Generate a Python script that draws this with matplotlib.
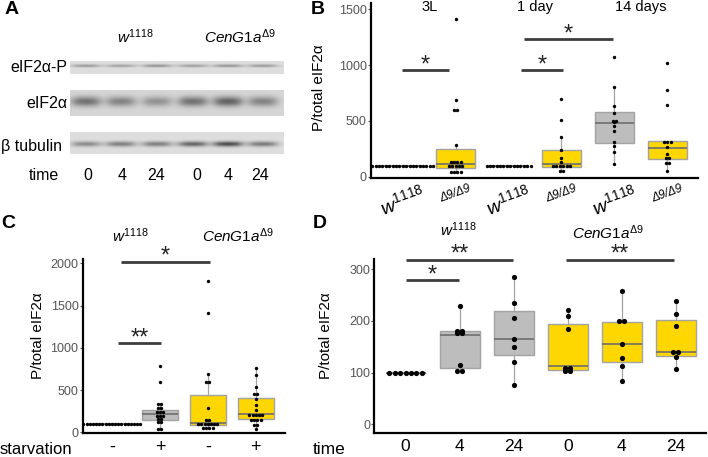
import numpy as np
import matplotlib
matplotlib.use("Agg")
import matplotlib.pyplot as plt

W, H = 708, 457
plt.rcParams.update({"font.family": ["Liberation Sans", "DejaVu Sans"],
                     "mathtext.fontset": "custom", "mathtext.rm": "Liberation Sans",
                     "mathtext.it": "Liberation Sans:italic", "mathtext.bf": "Liberation Sans:bold"})

GOLD = "#ffd700"; GREY = "#bdbdbd"; EDGE = "#a3a3a3"; MED = "#6e6e6e"; TICK = "#555555"; BAR = "#3c3c3c"
W1118 = r"$\mathit{w}^{1118}$"
CENG = r"$\mathit{CenG1a}^{\mathit{\Delta 9}}$"

# ---------- data ----------
# panel A: band darkness per lane (w1118 0,4,24 / CenG1a 0,4,24)
blot_rows = ["eIF2α-P", "eIF2α", "β tubulin"]
band_p = [0.28, 0.25, 0.31, 0.26, 0.30, 0.28]
band_tot = [0.40, 0.33, 0.27, 0.40, 0.46, 0.33]
band_tub = [0.33, 0.38, 0.38, 0.48, 0.58, 0.40]
time_labels = ["0", "4", "24", "0", "4", "24"]

# panel B
b_groups = ["3L", "1 day", "14 days"]
b_xlabels = [W1118, "Δ9/Δ9", W1118, "Δ9/Δ9", W1118, "Δ9/Δ9"]
b_w_3L = [100] * 19
b_d_3L = [1413, 686, 597, 597, 283, 129, 129, 129, 129, 100, 100, 100, 100, 100, 45, 45, 45, 45]
b_w_1d = [100] * 14
b_d_1d = [693, 508, 353, 239, 165, 134, 99, 99, 99, 99, 99, 99, 54, 54]
b_w_14d = [1075, 801, 633, 568, 502, 502, 487, 454, 409, 314, 278, 219, 114]
b_d_14d = [1016, 777, 642, 314, 314, 314, 263, 203, 165, 165, 125, 125, 51]
# box stats: median, q1, q3, whisker low, whisker high
b_stats = [(100, 100, 100, 100, 100), (111, 75, 247, 45, 283), (100, 100, 100, 100, 100),
           (111, 87, 239, 54, 353), (478, 299, 580, 114, 801), (260, 159, 323, 51, 314)]

# panel C
c_xlabels = ["-", "+", "-", "+"]
c_w_ctrl = [100] * 19
c_w_starv = [783, 595, 329, 329, 282, 282, 235, 235, 235, 195, 195, 195, 156, 156, 118, 118, 39, 39]
c_d_ctrl = [1791, 1411, 686, 600, 600, 290, 145, 145] + [102] * 7 + [51] * 4
c_d_starv = [756, 677, 536, 454, 454, 388, 317, 259] + [203] * 5 + [145] * 4 + [86, 86, 35]
c_stats = [(100, 100, 100, 100, 100), (212, 148, 266, 39, 329),
           (113, 86, 443, 51, 686), (219, 156, 411, 35, 756)]

# panel D
d_xlabels = ["0", "4", "24", "0", "4", "24"]
d_w0 = [100] * 7
d_w4 = [229, 180, 180, 176, 176, 115, 103, 103]
d_w24 = [284, 234, 206, 166, 149, 121, 77]
d_d0 = [222, 209, 184, 110, 110, 103, 103]
d_d4 = [257, 199, 199, 155, 128, 113, 84]
d_d24 = [238, 213, 191, 140, 140, 130, 107]
d_stats = [(100, 100, 100, 100, 100), (172, 110, 180, 103, 229), (166, 135, 219, 77, 284),
           (112, 106, 195, 102, 222), (155, 120, 198, 84, 257), (140, 133, 201, 107, 238)]

fig = plt.figure(figsize=(W / 100, H / 100), dpi=100)


def px_axes(l, t, r, b):
    return fig.add_axes([l / W, 1 - b / H, (r - l) / W, (b - t) / H])


def ftext(x, y, s, **kw):
    kw.setdefault("fontsize", 11)
    kw.setdefault("va", "center")
    return fig.text(x / W, 1 - y / H, s, **kw)


# ---------- A: blot ----------
lane_px = [86, 121, 157, 193, 228, 263]
strips = [(61, 74, 65.8, 1.4, 0.87, band_p), (90, 116, 102, 4.8, 0.84, band_tot),
          (132, 154, 144, 2.6, 0.87, band_tub)]
for top, bot, yc, sy, bg, amps in strips:
    ax = px_axes(70, top, 284, bot)
    xs = 70 + (np.arange(214 * 4) + 0.5) / 4
    ys = top + (np.arange((bot - top) * 4) + 0.5) / 4
    X, Y = np.meshgrid(xs, ys)
    img = np.full(X.shape, bg)
    for xc, a in zip(lane_px, amps):
        img -= a * np.exp(-((Y - yc) / sy) ** 2) / (1 + np.exp((np.abs(X - xc) - 13) / 3.0))
    ax.imshow(img, cmap="gray", vmin=0, vmax=1, aspect="auto", interpolation="bilinear")
    ax.axis("off")

ftext(12, 10, "A", fontsize=14, fontweight="bold", ha="center")
ftext(135, 37, W1118, ha="center")
ftext(240, 37, CENG, ha="center")
for lab, y in zip(blot_rows, [68, 103, 146]):
    ftext(67 if y < 140 else 62, y, lab, ha="right", fontsize=11.5)
ftext(59, 175, "time", ha="right", fontsize=11.5)
for lab, x in zip(time_labels, [88, 122, 156, 197, 228, 260]):
    ftext(x, 175, lab, ha="center", fontsize=11.5)


# ---------- helpers for box + dot panels ----------
def boxdots(ax, groups, stats, colors, spacing, ms):
    for i, (vals, st, c) in enumerate(zip(groups, stats, colors)):
        pos = i + 1
        med, q1, q3, lo, hi = st
        ax.bxp([dict(med=med, q1=q1, q3=q3, whislo=lo, whishi=hi, fliers=[])], positions=[pos],
               widths=0.745, patch_artist=True, showcaps=False, showfliers=False,
               boxprops=dict(facecolor=c, edgecolor=EDGE, lw=1.0),
               medianprops=dict(color=MED, lw=1.2), whiskerprops=dict(color=EDGE, lw=0.9))
        vals = np.asarray(vals)
        for v in np.unique(vals):
            n = int((vals == v).sum())
            xs = pos + (np.arange(n) - (n - 1) / 2) * spacing
            ax.scatter(xs, [v] * n, s=ms, color="black", lw=0, zorder=3)


def style(ax, xlim, ylim, yticks):
    ax.set_xlim(xlim); ax.set_ylim(ylim); ax.set_yticks(yticks)
    for s in ("top", "right"):
        ax.spines[s].set_visible(False)
    for s in ("left", "bottom"):
        ax.spines[s].set_linewidth(1.6)
    ax.tick_params(axis="y", length=2, color=TICK, labelcolor=TICK, labelsize=9, pad=1)
    ax.tick_params(axis="x", length=0)
    ax.patch.set_alpha(0)


def sig(ax, x0, x1, y, stars, off=3.5):
    ax.plot([x0, x1], [y, y], color=BAR, lw=2, clip_on=False, solid_capstyle="butt")
    ax.annotate(stars, xy=((x0 + x1) / 2, y), xytext=(0, off), textcoords="offset points",
                ha="center", va="center", fontsize=17, color="#222222", annotation_clip=False)


# ---------- B ----------
axB = px_axes(371, 3, 698, 177.7)
boxdots(axB, [b_w_3L, b_d_3L, b_w_1d, b_d_1d, b_w_14d, b_d_14d], b_stats,
        [GREY, GOLD, GREY, GOLD, GREY, GOLD], 0.064, 6)
style(axB, (0.4, 6.58), (-9, 1556), [0, 500, 1000, 1500])
axB.set_xticks(range(1, 7))
axB.set_xticklabels(b_xlabels, rotation=20)
for i, t in enumerate(axB.get_xticklabels()):
    t.set_fontsize(14 if i % 2 == 0 else 8.5)
    if i % 2:
        t.set_fontstyle("italic")
for x, lab in zip([1.5, 3.5, 5.5], b_groups):
    axB.text(x, 0.975, lab, transform=axB.get_xaxis_transform(), ha="center", va="center", fontsize=10.5)
sig(axB, 0.98, 1.88, 956, "*")
sig(axB, 3.24, 4.02, 956, "*")
sig(axB, 3.3, 4.97, 1231, "*")
ftext(318, 9, "B", fontsize=14, fontweight="bold", ha="center")
ftext(319, 88, "P/total eIF2α", rotation=90, ha="center")

# ---------- C ----------
axC = px_axes(82.7, 259.3, 285, 433.3)
boxdots(axC, [c_w_ctrl, c_w_starv, c_d_ctrl, c_d_starv], c_stats, [GREY, GREY, GOLD, GOLD], 0.066, 6)
style(axC, (0.39, 4.61), (-12, 2047), [0, 500, 1000, 1500, 2000])
axC.set_xticks(range(1, 5))
axC.set_xticklabels(c_xlabels, fontsize=13)
axC.tick_params(axis="x", pad=4)
sig(axC, 1.18, 3.05, 2020, "*")
sig(axC, 1.13, 2.02, 1052, "**")
ftext(8, 224, "C", fontsize=14, fontweight="bold", ha="center")
ftext(38, 336, "P/total eIF2α", rotation=90, ha="center")
ftext(130, 236, W1118, ha="center")
ftext(238, 236, CENG, ha="center")
ftext(72, 450, "starvation", ha="right", fontsize=12)

# ---------- D ----------
axD = px_axes(374.3, 259.3, 706, 433.3)
boxdots(axD, [d_w0, d_w4, d_w24, d_d0, d_d4, d_d24], d_stats,
        [GREY, GREY, GREY, GOLD, GOLD, GOLD], 0.1, 14)
style(axD, (0.42, 6.56), (-17, 319), [0, 100, 200, 300])
axD.set_xticks(range(1, 7))
axD.set_xticklabels(d_xlabels, fontsize=12.5)
axD.tick_params(axis="x", pad=4)
sig(axD, 1.0, 2.99, 318, "**")
sig(axD, 1.0, 1.99, 279, "*")
sig(axD, 3.96, 5.96, 318, "**")
ftext(320, 224, "D", fontsize=14, fontweight="bold", ha="center")
ftext(326, 336, "P/total eIF2α", rotation=90, ha="center")
ftext(458, 230, W1118, ha="center")
ftext(608, 233, CENG, ha="center")
ftext(313, 450, "time", ha="left", fontsize=12.5)

fig.savefig("out.png", dpi=100)
